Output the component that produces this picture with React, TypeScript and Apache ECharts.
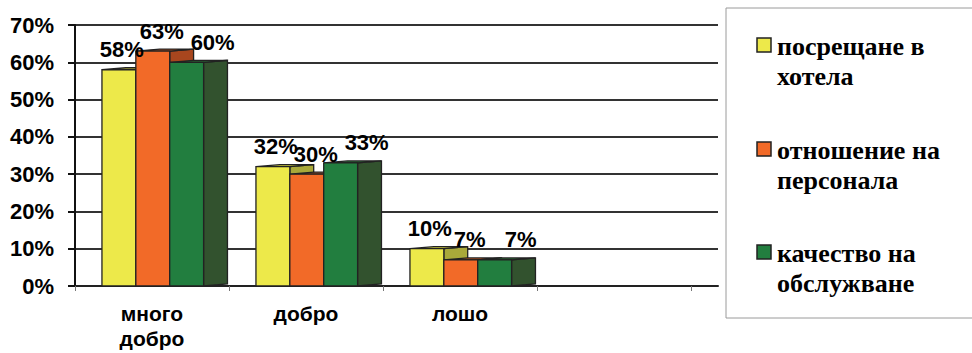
import React, { useEffect, useRef } from "react";
import * as echarts from "echarts";

// Survey answers (percent of respondents)
const categories = ["много\nдобро", "добро", "лошо", ""];
const seriesNames = ["посрещане в\nхотела", "отношение на\nперсонала", "качество на\nобслужване"];
const greeting = [58, 32, 10, null];
const staff = [63, 30, 7, null];
const service = [60, 33, 7, null];
const seriesValues = [greeting, staff, service];

// Front / depth / top face colours for each series
const frontColors = ["#EDE94A", "#F26A28", "#227E3F"];
const sideColors = ["#A9A93A", "#A8461E", "#32522E"];
const topColors = ["#C9C63F", "#C4551F", "#2A6A37"];
// Horizontal nudge of value labels per series
const labelShift = [3, 9, 26];

const SANS = "Liberation Sans";
const LEGEND_FONT = "bold 26px 'Liberation Serif'";

function makeRenderItem(si: number) {
  return (params: any, api: any) => {
    const cat = api.value(0);
    const v = api.value(1);
    const top = api.coord([cat, v]);
    const base = api.coord([cat, 0]);
    const band = api.size([1, 0])[0];
    const w = band * 0.22;
    const d = band * 0.155;
    const rise = 2;
    const x0 = top[0] - band * 0.325 + si * w;
    const stroke = { stroke: "#222", lineWidth: 1.3 };
    return {
      type: "group",
      children: [
        {
          type: "polygon",
          z2: si * 2,
          shape: {
            points: [
              [x0 + w, top[1]],
              [x0 + w + d, top[1] - rise],
              [x0 + w + d, base[1] - rise],
              [x0 + w, base[1]],
            ],
          },
          style: { fill: sideColors[si], ...stroke },
        },
        {
          type: "polygon",
          z2: si * 2,
          shape: {
            points: [
              [x0, top[1]],
              [x0 + d, top[1] - rise],
              [x0 + w + d, top[1] - rise],
              [x0 + w, top[1]],
            ],
          },
          style: { fill: topColors[si], ...stroke },
        },
        {
          type: "rect",
          z2: si * 2 + 1,
          shape: { x: x0, y: top[1], width: w, height: base[1] - top[1] },
          style: { fill: frontColors[si], ...stroke },
        },
        {
          type: "text",
          z2: 100,
          style: {
            text: v + "%",
            x: x0 + w / 2 + labelShift[si],
            y: top[1] - 9,
            align: "center",
            verticalAlign: "bottom",
            fontFamily: SANS,
            fontWeight: "bold",
            fontSize: 22,
            fill: "#000",
          },
        },
      ],
    };
  };
}

export default function App() {
  const ref = useRef<HTMLDivElement>(null);

  useEffect(() => {
    if (!ref.current) return;
    const chart = echarts.init(ref.current, undefined, { renderer: "svg" });

    const series = seriesValues.map((vals, si) => ({
      type: "custom",
      name: seriesNames[si],
      xAxisIndex: 0,
      yAxisIndex: 0,
      renderItem: makeRenderItem(si),
      data: vals
        .map((v, i) => (v === null ? null : [i, v]))
        .filter((p) => p !== null),
      encode: { x: 0, y: 1 },
    }));

    // Legend drawn as a framed block on the right, one text element per line
    const legendItems: any[] = [
      {
        type: "rect",
        shape: { x: 726, y: 8, width: 260, height: 310 },
        style: { fill: "#fff", stroke: "#9a9a9a", lineWidth: 1 },
      },
    ];
    const itemTops = [38, 142, 245];
    seriesNames.forEach((name, si) => {
      legendItems.push({
        type: "rect",
        shape: { x: 757, y: itemTops[si], width: 14, height: 14 },
        style: { fill: frontColors[si], stroke: "#222", lineWidth: 1.5 },
      });
      name.split("\n").forEach((line, li) => {
        legendItems.push({
          type: "text",
          x: 777,
          y: itemTops[si] - 4.5 + li * 30,
          style: { text: line, fill: "#000", font: LEGEND_FONT },
        });
      });
    });

    chart.setOption({
      animation: false,
      backgroundColor: "#fff",
      grid: [
        { left: 75, right: 281, top: 25, bottom: 67 },
        { left: 75, right: 254, top: 25, bottom: 67 },
      ],
      xAxis: [
        {
          gridIndex: 0,
          type: "category",
          data: categories,
          axisLine: { show: false },
          axisTick: { show: true, length: 5, lineStyle: { color: "#777", width: 1 } },
          axisLabel: {
            margin: 15,
            fontFamily: SANS,
            fontWeight: "bold",
            fontSize: 21,
            lineHeight: 25,
            color: "#000",
          },
          splitLine: { show: false },
        },
        {
          gridIndex: 1,
          type: "value",
          min: 0,
          max: 1,
          axisLine: { show: true, lineStyle: { color: "#222", width: 2 } },
          axisTick: { show: false },
          axisLabel: { show: false },
          splitLine: { show: false },
        },
      ],
      yAxis: [
        {
          gridIndex: 0,
          type: "value",
          min: 0,
          max: 70,
          interval: 10,
          axisLine: { show: true, lineStyle: { color: "#111", width: 2 } },
          axisTick: { show: true, length: 7, lineStyle: { color: "#111", width: 2 } },
          axisLabel: {
            margin: 21,
            formatter: "{value}%",
            fontFamily: SANS,
            fontWeight: "bold",
            fontSize: 22,
            color: "#000",
          },
          splitLine: { show: false },
        },
        {
          gridIndex: 1,
          type: "value",
          min: 0,
          max: 70,
          interval: 10,
          axisLine: { show: false },
          axisTick: { show: false },
          axisLabel: { show: false },
          splitLine: { show: true, lineStyle: { color: "#333", width: 2 } },
        },
      ],
      series,
      graphic: legendItems,
    });

    return () => chart.dispose();
  }, []);

  return (
    <div
      ref={ref}
      style={{ position: "absolute", left: 0, top: 0, width: 972, height: 353, background: "#fff" }}
    />
  );
}
